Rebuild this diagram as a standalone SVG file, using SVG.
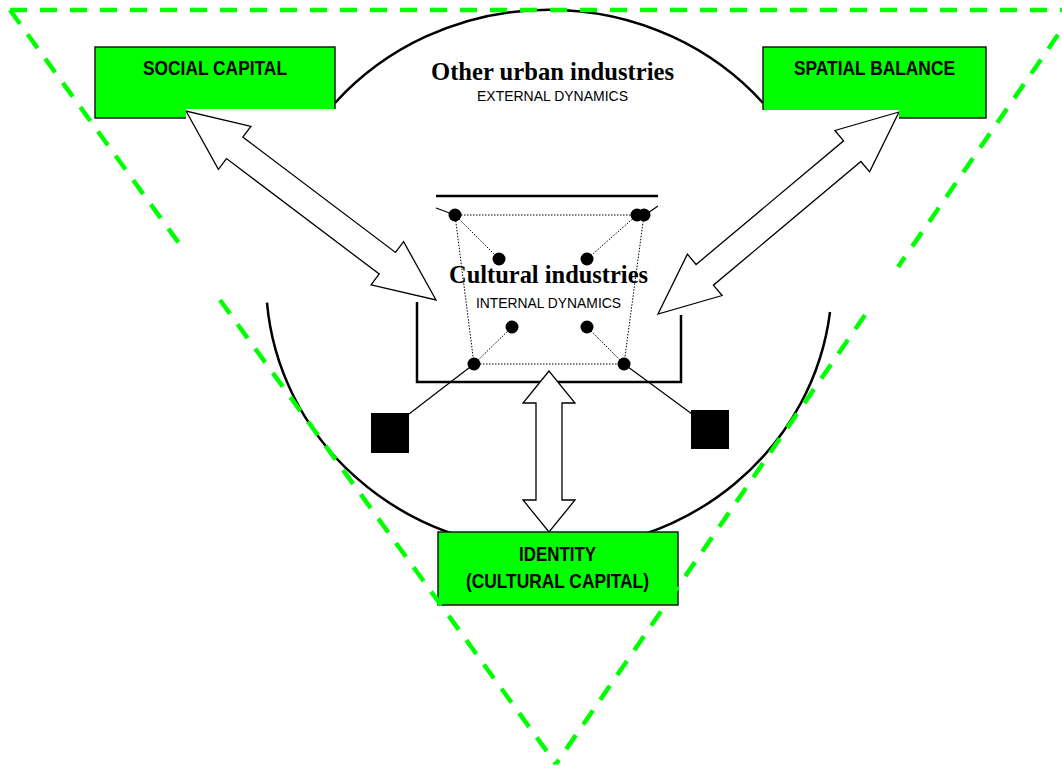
<svg xmlns="http://www.w3.org/2000/svg" width="1062" height="768" viewBox="0 0 1062 768">
<style>
.box{fill:#00ff00;stroke:none}
.edge{fill:none;stroke:#1a1a1a;stroke-width:1.5}
.lbl{font-family:"Liberation Sans Narrow","Liberation Sans",Arial,sans-serif;font-weight:bold;font-size:21px;fill:#000;text-anchor:middle}
.title{font-family:"Liberation Serif","Times New Roman",serif;font-weight:bold;font-size:24.5px;fill:#000;text-anchor:middle}
.sub{font-family:"Liberation Sans",Arial,sans-serif;font-size:14px;fill:#000;text-anchor:middle}
.arc{fill:none;stroke:#000;stroke-width:2.5}
.dot{fill:#000}
.dotted{fill:none;stroke:#000;stroke-width:1;stroke-dasharray:1.5 1.5}
.thin{fill:none;stroke:#000;stroke-width:1.2}
.dbl{fill:#fff;stroke:#000;stroke-width:1.3;stroke-linejoin:miter}
.tri{fill:none;stroke:#00ff00;stroke-width:4.5;stroke-dasharray:17 13}
</style>
<rect width="1062" height="768" fill="#fff"/>

<g id="other-urban-industries">
  <path class="arc" d="M335,103 A283,270 0 0 1 763,103"/>
  <path class="arc" d="M267,302.7 A283,270 0 0 0 830,312"/>
  <text class="title" x="552.5" y="80" textLength="243" lengthAdjust="spacingAndGlyphs">Other urban industries</text>
  <text class="sub" x="552.5" y="101" textLength="151" lengthAdjust="spacingAndGlyphs">EXTERNAL DYNAMICS</text>
</g>

<g id="cultural-industries">
  <path class="arc" d="M436,196 H658"/>
  <path class="arc" d="M417,302 V382 H681 V315"/>
  <text class="title" x="548.5" y="283" textLength="199" lengthAdjust="spacingAndGlyphs">Cultural industries</text>
  <text class="sub" x="548.5" y="308" textLength="145" lengthAdjust="spacingAndGlyphs">INTERNAL DYNAMICS</text>
</g>

<g id="connectors">
  <polygon class="dbl" points="186,111 218.4,169.3 226.5,158.6 379.2,274 371.1,284.8 436,300 403.6,241.7 395.5,252.4 242.8,137 250.9,126.3"/>
  <polygon class="dbl" points="899,112 834.9,130.5 843.6,140.8 696.1,264.5 687.4,254.1 658,314 722.1,295.5 713.4,285.2 860.9,161.5 869.6,171.9"/>
  <polygon class="dbl" points="549,371 523,403 536,403 536,500 523,500 549,532 575,500 562,500 562,403 575,403"/>
  <path class="dotted" d="M455,215 H644 M455,215 L474,364 M644,215 L624,364 M474,364 H624 M455,215 L499,259 M637,215 L587,259 M474,364 L512,327 M624,364 L587,327"/>
  <path class="thin" d="M436,208 L455,215 M645,215 L658,206 M474,364 L409,414 M624,364 L692,414"/>
</g>

<g id="network-nodes">
  <circle class="dot" cx="455" cy="215" r="6.5"/>
  <circle class="dot" cx="637" cy="215" r="6.5"/>
  <circle class="dot" cx="644" cy="215" r="6.5"/>
  <circle class="dot" cx="499" cy="259" r="6.5"/>
  <circle class="dot" cx="587" cy="259" r="6.5"/>
  <circle class="dot" cx="512" cy="327" r="6.5"/>
  <circle class="dot" cx="587" cy="327" r="6.5"/>
  <circle class="dot" cx="474" cy="364" r="6.5"/>
  <circle class="dot" cx="624" cy="364" r="6.5"/>
</g>

<g id="square-left"><rect x="371" y="413" width="38" height="40" fill="#000"/></g>
<g id="square-right"><rect x="691" y="410" width="38" height="39" fill="#000"/></g>

<g id="social-capital">
  <path class="box" d="M95,47 H335 V109 H186 V118 H95 Z"/>
  <path class="edge" d="M186,118 H95 V47 H335 V109"/>
  <text class="lbl" x="215" y="75" textLength="144" lengthAdjust="spacingAndGlyphs">SOCIAL CAPITAL</text>
</g>

<g id="spatial-balance">
  <path class="box" d="M763,47 H986 V118 H899 V110 H763 Z"/>
  <path class="edge" d="M763,110 V47 H986 V118 H899"/>
  <text class="lbl" x="874.5" y="75" textLength="161" lengthAdjust="spacingAndGlyphs">SPATIAL BALANCE</text>
</g>

<g id="identity">
  <rect class="box" x="438" y="532" width="240" height="73"/>
  <rect class="edge" x="438" y="532" width="240" height="73"/>
  <text class="lbl" x="557.5" y="561" textLength="77" lengthAdjust="spacingAndGlyphs">IDENTITY</text>
  <text class="lbl" x="557.5" y="588" textLength="183" lengthAdjust="spacingAndGlyphs">(CULTURAL CAPITAL)</text>
</g>

<g id="triangle">
  <path class="tri" d="M10,10 H1075"/>
  <path class="tri" d="M10,10 L186,253"/>
  <path class="tri" d="M220,300 L556,764"/>
  <path class="tri" d="M1075,10 L898,267"/>
  <path class="tri" d="M865,315 L556,764"/>
</g>
</svg>
